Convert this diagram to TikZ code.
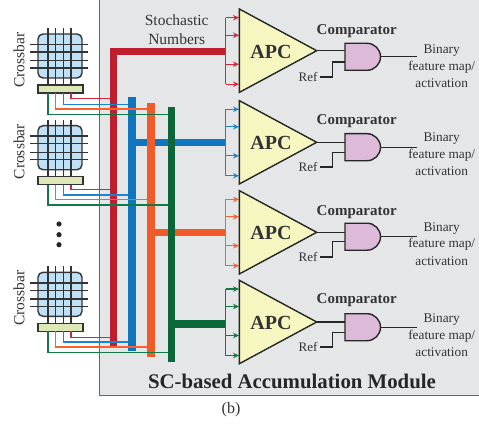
\documentclass[tikz,border=0pt]{standalone}
\usepackage{fontspec}
\setmainfont{Liberation Serif}
\usetikzlibrary{arrows.meta}
\definecolor{panel}{HTML}{E5E6E8}
\definecolor{cred}{HTML}{BE1E2D}
\definecolor{cblue}{HTML}{0F75BC}
\definecolor{corange}{HTML}{F15A29}
\definecolor{cgreen}{HTML}{0B6638}
\definecolor{fred}{HTML}{D4273A}
\definecolor{fblue}{HTML}{1C84CC}
\definecolor{forange}{HTML}{F8622E}
\definecolor{fgreen}{HTML}{127A45}
\definecolor{tri}{HTML}{F6F7C0}
\definecolor{gatef}{HTML}{DDBAD8}
\definecolor{xfill}{HTML}{BFE1F6}
\definecolor{barf}{HTML}{DCE9B6}
\definecolor{ink}{HTML}{333335}
\newcommand{\fs}[1]{\fontsize{#1}{#1}\selectfont}
\tikzset{
  bus/.style={line width=7.3pt,line cap=butt},
  wire/.style={line width=1.35pt,sharp corners},
  fan/.style={line width=1.2pt,-{Stealth[length=6pt,width=5.5pt]}},
  grid/.style={draw=ink,line width=1.4pt},
  lbl/.style={text=ink,inner sep=0pt,align=center},
  gline/.style={draw=black!85,line width=1.4pt},
}
\begin{document}
\begin{tikzpicture}[x=1pt,y=-1pt]
\useasboundingbox (0,0) rectangle (479,425);
\node[draw=black!60,fill=panel,line width=1pt,inner sep=0pt,minimum width=381.5pt,minimum height=398pt,anchor=south west] (panel) at (98.5,396) {};
% crossbars
\foreach \n/\o in {a/0,b/91.7,c/238.3}{
  \begin{scope}[yshift=-\o pt]
  \node[draw=ink,fill=xfill,line width=1.4pt,rounded corners=5pt,minimum width=44pt,minimum height=44pt,inner sep=0pt] (x\n) at (60,56) {};
  \foreach \x in {48,55.5,63.5,71} \draw[grid] (\x,28) -- (\x,85);
  \foreach \y in {44.5,52,60.5,68} \draw[grid] (30,\y) -- (88,\y);
  \node[draw=ink,fill=barf,line width=1.4pt,minimum width=45pt,minimum height=8pt,inner sep=0pt] (bar\n) at (60.5,89) {};
  \node[lbl,rotate=90,font=\fs{15.5}] (lab\n) at (19,60) {Crossbar};
  \coordinate (wr\n) at (71,93);
  \coordinate (wb\n) at (63.5,93);
  \coordinate (wo\n) at (55.5,93);
  \coordinate (wg\n) at (48,93);
  \end{scope}
}
% dots
\foreach \n/\y in {1/224,2/234.7,3/244.7} \fill[black!85] (59,\y) circle (2.6pt);
% fans and buses
\coordinate (rt) at (113.7,347); \coordinate (rc) at (113.7,51.7); \coordinate (rf) at (225.7,51.7);
\coordinate (bt) at (132,351); \coordinate (bh) at (132,97); \coordinate (bc) at (132,142.3); \coordinate (bf) at (225.7,142.3);
\coordinate (ot) at (151,357); \coordinate (oh) at (151,103); \coordinate (oc) at (151,232.3); \coordinate (of) at (225.7,232.3);
\coordinate (gt) at (171.8,361.7); \coordinate (gh) at (171.8,107.3); \coordinate (gc) at (171.8,324); \coordinate (gf) at (225.7,324);
\draw[bus,cred,line join=miter] (rt) -- (rc) -- (rf);
\draw[bus,cblue] (bc) -- (bf);
\draw[bus,cblue] (bt) -- (bh);
\draw[bus,corange] (oc) -- (of);
\draw[bus,corange] (ot) -- (oh);
\draw[bus,cgreen] (gc) -- (gf);
\draw[bus,cgreen] (gt) -- (gh);
% wires
\foreach \n/\ya/\yb/\yc/\yd in {a/98.7/104.3/109/114.7,b/189.3/195/199.7/205,c/337.3/342/347/352.7}{
  \draw[wire,fgreen] (wg\n) |- (168,\yd);
  \draw[wire,forange] (wo\n) |- (147.3,\yc);
  \draw[wire,fblue] (wb\n) |- (128,\yb);
  \draw[wire,fred] (wr\n) |- (110,\ya);
}
% APC blocks
\foreach \k/\tp/\col/\gy/\ry/\rr/\cy/\by in {1/50.7/fred/56.8/62/77/31.3/51,2/142.3/fblue/147.2/152.3/167/121.3/139,3/232.3/forange/236.7/241.7/257/211.7/228.7,4/322/fgreen/327.2/332.7/347/300.3/320}{
  \node[lbl,font=\fs{15}\bfseries] (cmp\k) at (356.7,\cy) {Comparator};
  \coordinate (tl\k) at (239.3,\tp-41.7);
  \coordinate (bl\k) at (239.3,\tp+41.7);
  \coordinate (tip\k) at (316.7,\tp);
  \draw[\col,line width=1.2pt] (225.7,\tp-33) -- (225.7,\tp+33.5);
  \foreach \d in {-33,-15.5,13.5,33.5}{
    \draw[fan,\col] (225.7,\tp+\d) -- (239,\tp+\d);
  }
  \draw[gline,fill=tri,line join=miter] (tl\k) -- (tip\k) -- (bl\k) -- cycle;
  \node[lbl,font=\fs{20}\bfseries] (apc\k) at (271,\tp+1) {APC};
  \draw[gline,fill=gatef] (345,\gy-13.5) -- (367,\gy-13.5) arc[start angle=90,end angle=-90,radius=13.5pt] -- (345,\gy+13.5) -- cycle;
  \draw[gline] (tip\k) -- (345,\tp);
  \coordinate (out\k) at (416.7,\gy);
  \draw[gline] (381,\gy) -- (out\k);
  \node[lbl,font=\fs{13}] (ref\k) at (308,\rr) {Ref};
  \draw[gline,sharp corners] (320,\rr) -- (332.7,\rr) -- (332.7,\ry) -- (345,\ry);
  \node[lbl,font=\fs{13.3}] (b\k) at (441.7,\by) {Binary};
  \node[lbl,font=\fs{13.3}] (f\k) at (441.7,\by+16) {feature map/};
  \node[lbl,font=\fs{13.3}] (v\k) at (441.7,\by+32) {activation};
}
\node[lbl,font=\fs{15.5}] (st) at (176.7,20) {Stochastic};
\node[lbl,font=\fs{15.5}] (nu) at (176.7,38.7) {Numbers};
\node[lbl,font=\fs{20.8}\bfseries,text=black!85] (title) at (292,381.5) {SC-based Accumulation Module};
\node[lbl,font=\fs{16}] (cap) at (231,410) {(b)};
\end{tikzpicture}
\end{document}
